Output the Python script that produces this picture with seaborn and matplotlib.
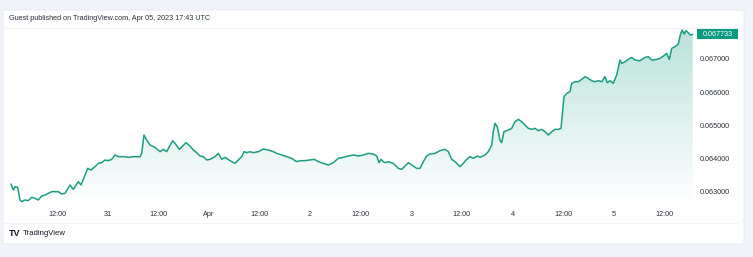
import numpy as np
import pandas as pd
import matplotlib
matplotlib.use("Agg")
import matplotlib.pyplot as plt
from matplotlib.patches import FancyBboxPatch, Rectangle
from matplotlib.lines import Line2D
import seaborn as sns

# ---- data (hours since 2023-03-30 00:00 UTC, price) ----
hours = [1.02, 1.57, 1.97, 2.61, 3.16, 3.56, 4.34, 5.12, 5.93, 6.71, 7.50, 8.30, 9.09, 9.87,
         10.68, 11.46, 12.24, 13.05, 13.83, 15.02, 15.80, 16.99, 17.63, 18.58, 19.22, 20.00,
         20.95, 21.73, 22.54, 23.32, 24.10, 24.91, 25.69, 26.48, 27.28, 28.07, 28.85, 30.04,
         31.62, 32.03, 32.57, 33.21, 34.00, 35.18, 36.37, 37.15, 37.96, 38.58, 39.38, 39.93,
         40.95, 41.76, 42.54, 43.49, 44.27, 45.08, 45.86, 46.64, 47.45, 48.23, 49.42, 50.20,
         51.01, 51.79, 52.98, 54.16, 54.95, 55.75, 56.30, 56.94, 57.72, 58.51, 59.69, 60.88,
         62.06, 63.25, 64.06, 65.24, 66.43, 67.62, 68.80, 69.59, 70.77, 71.96, 72.98, 73.93,
         75.11, 76.30, 77.49, 78.67, 79.86, 81.04, 82.23, 83.42, 84.60, 85.79, 86.98, 87.78,
         88.33, 88.80, 89.35, 89.75, 90.53, 91.72, 92.91, 93.71, 94.50, 95.28, 96.09, 97.27,
         98.06, 98.84, 99.64, 100.43, 101.61, 102.80, 103.99, 104.77, 105.58, 106.36, 107.55,
         108.33, 109.13, 109.92, 110.70, 111.65, 112.29, 113.48, 114.26, 115.07, 115.44,
         115.85, 116.39, 117.02, 117.43, 117.98, 119.00, 119.81, 120.59, 121.38, 122.18,
         122.96, 123.75, 124.56, 125.34, 126.12, 126.93, 127.71, 128.49, 129.30, 130.08,
         130.87, 131.51, 131.91, 132.22, 132.86, 133.64, 134.05, 134.83, 135.61, 136.42,
         137.20, 137.98, 138.79, 139.57, 140.36, 141.16, 141.94, 142.49, 143.13, 143.91,
         144.72, 145.50, 145.90, 146.69, 147.47, 148.28, 149.06, 150.25, 151.43, 152.22,
         153.02, 154.21, 154.99, 155.78, 156.58, 157.20, 157.77, 158.55, 159.33, 159.90,
         160.28, 160.69, 161.16, 161.71, 162.28, 162.76]
prices = [0.06324, 0.06306, 0.06316, 0.06314, 0.06276, 0.06271, 0.06276, 0.06274, 0.06284,
          0.06281, 0.06276, 0.06288, 0.06291, 0.06296, 0.06301, 0.06301, 0.06301, 0.06294,
          0.06296, 0.06321, 0.06308, 0.06331, 0.06321, 0.06351, 0.06371, 0.06366, 0.06376,
          0.06386, 0.06388, 0.06396, 0.06394, 0.06398, 0.06411, 0.06406, 0.06406, 0.06406,
          0.06404, 0.06406, 0.06406, 0.06416, 0.06471, 0.06456, 0.06441, 0.06434, 0.06421,
          0.06428, 0.06421, 0.06436, 0.06454, 0.06446, 0.06428, 0.06438, 0.06448, 0.06438,
          0.06426, 0.06418, 0.06408, 0.06406, 0.06396, 0.06398, 0.06406, 0.06416, 0.06398,
          0.06404, 0.06394, 0.06386, 0.06396, 0.06406, 0.06421, 0.06418, 0.06421, 0.06418,
          0.06421, 0.06429, 0.06426, 0.06421, 0.06416, 0.06411, 0.06406, 0.06401, 0.06391,
          0.06394, 0.06394, 0.06396, 0.06398, 0.06391, 0.06386, 0.06381, 0.06388, 0.06401,
          0.06404, 0.06408, 0.06411, 0.06408, 0.06411, 0.06416, 0.06414, 0.06408, 0.06388,
          0.06398, 0.06391, 0.06388, 0.06391, 0.06386, 0.06371, 0.06368, 0.06378, 0.06388,
          0.06381, 0.06371, 0.06371, 0.06391, 0.06408, 0.06414, 0.06416, 0.06424, 0.06428,
          0.06421, 0.06398, 0.06391, 0.06376, 0.06386, 0.06398, 0.06406, 0.06401, 0.06408,
          0.06404, 0.06411, 0.06421, 0.06441, 0.06481, 0.06506, 0.06496, 0.06456, 0.06448,
          0.06481, 0.06486, 0.06491, 0.06511, 0.06518, 0.06511, 0.06501, 0.06491, 0.06488,
          0.06491, 0.06484, 0.06488, 0.06481, 0.06471, 0.06481, 0.06488, 0.06488, 0.06491,
          0.06546, 0.06586, 0.06596, 0.06601, 0.06626, 0.06631, 0.06631, 0.06638, 0.06646,
          0.06641, 0.06634, 0.06631, 0.06634, 0.06631, 0.06646, 0.06628, 0.06634, 0.06626,
          0.06651, 0.06696, 0.06686, 0.06691, 0.06698, 0.06704, 0.06696, 0.06694, 0.06704,
          0.06706, 0.06696, 0.06698, 0.06701, 0.06708, 0.06716, 0.06698, 0.06731, 0.06736,
          0.06744, 0.06776, 0.06786, 0.06774, 0.06784, 0.06778, 0.06771, 0.067733]

x_ticks = [12, 24, 36, 48, 60, 72, 84, 96, 108, 120, 132, 144, 156]
x_tick_labels = ["12:00", "31", "12:00", "Apr", "12:00", "2", "12:00", "3",
                 "12:00", "4", "12:00", "5", "12:00"]
y_ticks = [0.063, 0.064, 0.065, 0.066, 0.067]
title_text = "Guest published on TradingView.com, Apr 05, 2023 17:43 UTC"
last_price = prices[-1]

sns.set_theme(style="white")
plt.rcParams["font.family"] = ["Liberation Sans", "DejaVu Sans"]

W, H = 753, 257
fig = plt.figure(figsize=(W / 100, H / 100), dpi=100)
fig.patch.set_facecolor("#f0f3fa")

def fx(px):
    return px / W

def fy(py):
    return 1 - py / H

# white card (behind everything)
card = FancyBboxPatch((fx(3), fy(244)), fx(744) - fx(3), fy(10) - fy(244),
                      boxstyle="round,pad=0,rounding_size=0.004",
                      transform=fig.transFigure, facecolor="white",
                      edgecolor="#e6e9f0", linewidth=0.6, zorder=-5)
fig.patches.append(card)
fig.lines.append(Line2D([fx(4), fx(743)], [fy(28), fy(28)], transform=fig.transFigure,
                        color="#f0f3fa", linewidth=0.8, zorder=-4))
fig.lines.append(Line2D([fx(4), fx(738)], [fy(222.5), fy(222.5)], transform=fig.transFigure,
                        color="#f0f3fa", linewidth=0.8, zorder=-4))

left_px, right_px, top_px, bot_px = 10, 694, 29, 205
ax = fig.add_axes([fx(left_px), fy(bot_px), fx(right_px) - fx(left_px), fy(top_px) - fy(bot_px)])
ax.set_facecolor("none")
ax.patch.set_alpha(0)

x0 = (left_px - 6.7) / 4.215
x1 = (right_px - 6.7) / 4.215
ytop = 0.067 + (58.7 - top_px) / 33.3 * 0.001
ybot = 0.063 - (bot_px - 192.0) / 33.3 * 0.001

df = pd.DataFrame({"hours": hours, "price": prices})
line_color = "#1a9e84"

# gradient area fill
poly = ax.fill_between(df["hours"], df["price"], ybot, color="none", linewidth=0)
grad = np.zeros((256, 2, 4))
alpha = np.linspace(0.0, 0.30, 256)[:, None]
grad[:, :, 0] = 0.10
grad[:, :, 1] = 0.62
grad[:, :, 2] = 0.52
grad[:, :, 3] = alpha
im = ax.imshow(grad, extent=[x0, x1, ybot, ytop], origin="lower", aspect="auto", zorder=1)
clip = poly.get_paths()[0]
im.set_clip_path(clip, transform=ax.transData)

sns.lineplot(data=df, x="hours", y="price", ax=ax, color=line_color, linewidth=1.1, zorder=3)

ax.set_xlim(x0, x1)
ax.set_ylim(ybot, ytop)

for s in ax.spines.values():
    s.set_visible(False)
ax.grid(False)
ax.set_xlabel("")
ax.set_ylabel("")
ax.set_xticks(x_ticks)
ax.set_xticklabels(x_tick_labels)
ax.yaxis.tick_right()
ax.set_yticks(y_ticks)
ax.set_yticklabels([f"{v:.6f}" for v in y_ticks])
ax.tick_params(axis="x", length=0, pad=4.5, labelsize=5.2, labelcolor="#2a2e39")
ax.tick_params(axis="y", length=0, pad=4.5, labelsize=5.2, labelcolor="#2a2e39")

# title
fig.text(fx(9), fy(19), title_text, fontsize=5.2, color="#2a2e39", va="center", ha="left")

# last price label
fig.canvas.draw()
disp = ax.transData.transform((x1, last_price))
ly = disp[1] / H
fig.patches.append(Rectangle((fx(697), ly - 5.2 / H), fx(738) - fx(697), 10.4 / H,
                             transform=fig.transFigure, facecolor="#089981",
                             edgecolor="none", zorder=5))
fig.text((fx(697) + fx(738)) / 2, ly, f"{last_price:.6f}", fontsize=5.2, color="white",
         ha="center", va="center", zorder=6)

# TradingView logo
fig.text(fx(9), fy(233.5), "TV", fontsize=6.5, fontweight="heavy", color="#131722",
         va="center", ha="left")
fig.text(fx(23), fy(233.5), "TradingView", fontsize=5.6, color="#131722",
         va="center", ha="left")

fig.savefig("out.png", dpi=100, facecolor=fig.get_facecolor())
